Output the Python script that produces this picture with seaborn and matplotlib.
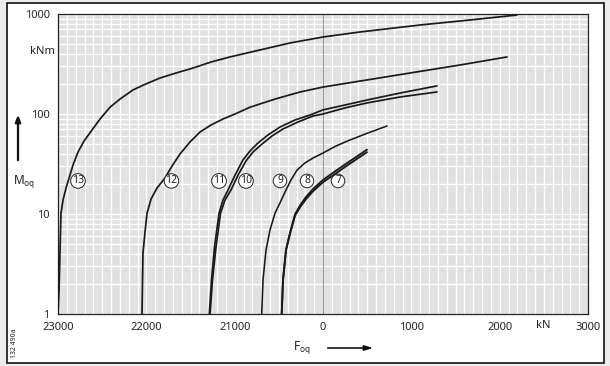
"""Moment vs. axial force limit curves (log scale), styled like a catalogue chart."""

import numpy as np
import matplotlib
matplotlib.use("Agg")
import matplotlib.pyplot as plt
from matplotlib.patches import Rectangle, FancyArrowPatch
from matplotlib.ticker import MultipleLocator, LogLocator, NullFormatter, FixedLocator, FixedFormatter
import seaborn as sns

# ---- data (F in kN, M in kNm) ----
curve_13_f = [-3000, -2988, -2977, -2966, -2943, -2909, -2875, -2830, -2773, -2705, -2615, -2524,
              -2411, -2298, -2151, -2004, -1845, -1664, -1472, -1268, -1053, -713, -374, 0,
              419, 1098, 1664, 2196]
curve_13_m = [1.0, 1.74, 4.37, 10.2, 13.8, 18.2, 22.9, 30.9, 41.7, 53.7, 69.2, 89.1,
              117, 141, 174, 200, 229, 257, 288, 331, 372, 437, 513, 589,
              661, 776, 871, 977]

curve_12_f = [-2049, -2043, -2038, -2015, -1992, -1947, -1879, -1789, -1709, -1619, -1506, -1392,
              -1268, -1132, -974, -826, -543, -260, 0, 498, 985, 1551, 2083]
curve_12_m = [1.0, 2.19, 4.07, 6.61, 10.2, 14.1, 18.2, 22.9, 30.2, 39.8, 52.5, 66.1,
              77.6, 89.1, 102, 117, 141, 166, 186, 219, 257, 309, 372]

curve_11_f = [-1287, -1262, -1228, -1177, -1132, -1075, -996, -906, -826, -736, -623, -487,
              -317, -147, 0, 249, 498, 872, 1290]
curve_11_m = [1.0, 2.19, 4.68, 10.2, 13.8, 17.4, 24.5, 34.7, 42.7, 51.3, 61.7, 74.1,
              87.1, 97.7, 110, 123, 138, 162, 191]

curve_10_f = [-1279, -1251, -1211, -1160, -1109, -1041, -962, -872, -792, -690, -577, -453,
              -283, -113, 0, 249, 498, 872, 1290]
curve_10_m = [1.0, 2.19, 4.68, 10.2, 13.8, 17.4, 24.5, 33.9, 41.7, 50.1, 60.3, 70.8,
              83.2, 95.5, 100, 115, 129, 148, 166]

curve_9_f = [-694, -679, -645, -600, -543, -487, -430, -362, -294, -204, -113, 0,
             147, 306, 509, 724]
curve_9_m = [1.0, 2.19, 4.37, 6.92, 10.2, 12.9, 16.6, 21.9, 27.5, 32.4, 36.3, 40.7,
             47.9, 55.0, 64.6, 75.9]

curve_8_f = [-468, -453, -419, -374, -317, -260, -192, -113, 0, 113, 226, 362, 498]
curve_8_m = [1.0, 2.2, 4.4, 6.5, 9.9, 12.2, 14.8, 17.8, 21.9, 25.8, 30.3, 36.5, 44.0]

curve_7_f = [-467, -452, -418, -372, -315, -257, -189, -110, 3, 116, 229, 364, 498]
curve_7_m = [1.0, 2.2, 4.35, 6.4, 9.7, 11.8, 14.2, 17.0, 20.9, 24.4, 28.7, 34.6, 41.5]

curve_labels = ["13", "12", "11", "10", "9", "8", "7"]
label_f = [-2774, -1716, -1177, -872, -487, -181, 170]
label_m = [21.4, 21.4, 21.4, 21.4, 21.4, 21.4, 21.4]

x_ticks = [-3000, -2000, -1000, 0, 1000, 2000, 3000]
x_tick_labels = ["23000", "22000", "21000", "0", "1000", "2000", "3000"]
y_ticks = [1, 10, 100, 1000]
y_tick_labels = ["1", "10", "100", "1000"]

sns.set_style("white", {"axes.facecolor": "#e1e1e1"})
plt.rcParams["font.family"] = ["Noto Sans", "DejaVu Sans"]
plt.rcParams["mathtext.fontset"] = "custom"
plt.rcParams["mathtext.rm"] = "Noto Sans"

W, H = 610, 366
fig = plt.figure(figsize=(W / 100, H / 100), dpi=100, facecolor="#ececec")

# outer white frame, kept behind the axes
fig.patches.append(Rectangle((7 / W, 3 / H), 597 / W, 360 / H, transform=fig.transFigure,
                             facecolor="white", edgecolor="#111111", lw=1.2, zorder=-5))

ax = fig.add_axes([58 / W, 52 / H, 530 / W, 300 / H])
ax.set_zorder(2)
ax.set_facecolor("#e1e1e1")
ax.set_yscale("log")
ax.set_xlim(-3000, 3000)
ax.set_ylim(1, 1000)

ax.xaxis.set_major_locator(FixedLocator(x_ticks))
ax.xaxis.set_major_formatter(FixedFormatter(x_tick_labels))
ax.xaxis.set_minor_locator(MultipleLocator(100))
ax.yaxis.set_major_locator(FixedLocator(y_ticks))
ax.yaxis.set_major_formatter(FixedFormatter(y_tick_labels))
ax.yaxis.set_minor_locator(LogLocator(base=10, subs=np.arange(2, 10)))
ax.yaxis.set_minor_formatter(NullFormatter())

ax.grid(which="both", color="white", lw=1.0)
ax.set_axisbelow(True)
ax.tick_params(which="major", direction="out", length=4, width=0.8, color="#222222",
               labelsize=8, labelcolor="#222222", pad=2)
ax.tick_params(which="minor", length=0)
for side in ["left", "bottom", "top", "right"]:
    ax.spines[side].set_visible(True)
    ax.spines[side].set_color("#222222")
    ax.spines[side].set_linewidth(0.9)

ax.axvline(0, color="#9a9a9a", lw=0.8, zorder=1)

curves = [
    (curve_13_f, curve_13_m, 1.25),
    (curve_12_f, curve_12_m, 1.25),
    (curve_11_f, curve_11_m, 1.25),
    (curve_10_f, curve_10_m, 1.25),
    (curve_9_f, curve_9_m, 1.15),
    (curve_8_f, curve_8_m, 1.35),
    (curve_7_f, curve_7_m, 1.35),
]
for f, m, lw in curves:
    sns.lineplot(x=f, y=m, sort=False, estimator=None, color="#1a1a1a", lw=lw, ax=ax, zorder=3)

for lab, f, m in zip(curve_labels, label_f, label_m):
    ax.text(f, m, lab, ha="center", va="center", fontsize=7.5, color="#222222", zorder=4,
            bbox=dict(boxstyle="circle,pad=0.12", fc="white", ec="#222222", lw=0.7))

# axis annotations
fig.text(42 / W, 1 - 52 / H, "kNm", ha="center", va="center", fontsize=8, color="#222222")
fig.text(543 / W, 1 - 325 / H, "kN", ha="center", va="center", fontsize=8, color="#222222")
fig.text(24 / W, 1 - 182 / H, r"M$_\mathregular{oq}$", ha="center", va="center",
         fontsize=8.5, color="#222222")
fig.text(302 / W, 1 - 347 / H, r"F$_\mathregular{oq}$", ha="center", va="center",
         fontsize=8.5, color="#222222")
fig.text(15 / W, 1 - 343 / H, "132 490a", rotation=90, ha="center", va="center",
         fontsize=5, color="#222222")

fig.add_artist(FancyArrowPatch(
    (18 / W, 1 - 163 / H), (18 / W, 1 - 112 / H), transform=fig.transFigure,
    arrowstyle="-|>,head_length=4,head_width=1.6", color="#111111", lw=1.6))
fig.add_artist(FancyArrowPatch(
    (325 / W, 1 - 348 / H), (376 / W, 1 - 348 / H), transform=fig.transFigure,
    arrowstyle="-|>,head_length=5,head_width=1.5", color="#111111", lw=1.2))

fig.savefig("out.png", dpi=100, facecolor=fig.get_facecolor())
